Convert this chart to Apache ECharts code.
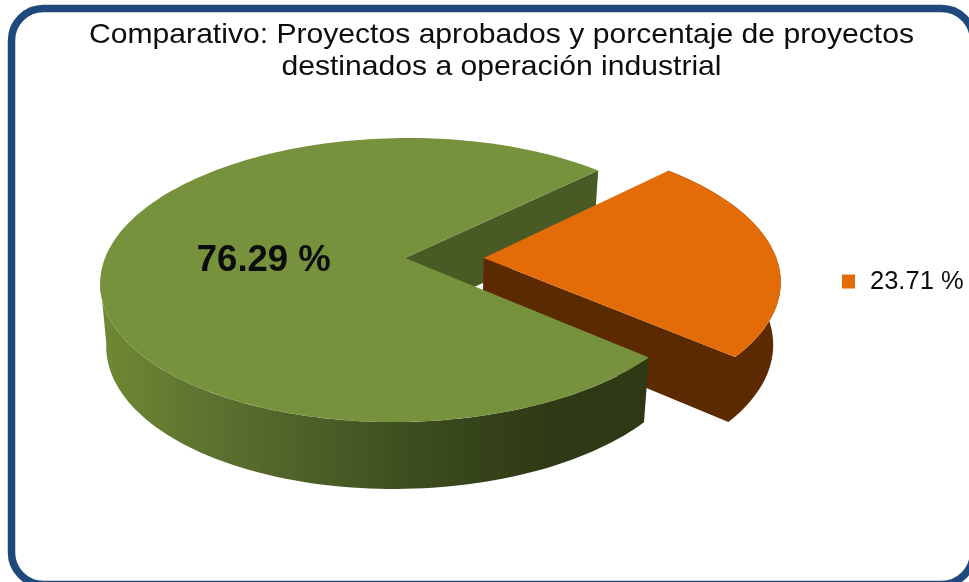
<!DOCTYPE html>
<html>
<head>
<meta charset="utf-8">
<style>html,body{margin:0;padding:0;background:#fff}#c{width:969px;height:582px}</style>
<script src="https://cdn.jsdelivr.net/npm/echarts@6/dist/echarts.min.js"></script>
</head>
<body>
<div id="c"></div>
<script>
var titleLines = ['Comparativo: Proyectos aprobados y porcentaje de proyectos', 'destinados a operación industrial'];
var sliceLabels = ['76.29 %', '23.71 %'];
var sliceValues = [76.29, 23.71];
var sliceExplode = [0, 0.266];
var legendLabels = ['23.71 %'];

var total = sliceValues.reduce(function (a, b) { return a + b; }, 0);
var orangeStartDeg = -44.8;
var orangeSweep = sliceValues[1] / total * 360;
var sliceRange = [
  [orangeStartDeg + orangeSweep, orangeStartDeg + 360],
  [orangeStartDeg, orangeStartDeg + orangeSweep]
];
var OX = 405, OY = 258, R = 297, S = 138.6, KV = 0.155, KU = 0.01, SHEAR = 0.05, DEPTH = 62;

function projectTop(u, v) {
  var w = 1 - KV * v + KU * u;
  var y = S * v / w;
  return [OX + R * u / w - SHEAR * y, OY + y];
}
function projectBottom(p) {
  return [OX + 0.98 * (p[0] - OX), p[1] + DEPTH + 0.03 * (p[1] - OY)];
}
function rim(deg, e) {
  var t = deg * Math.PI / 180;
  return projectTop(Math.cos(t) + e, Math.sin(t));
}
function arcPoints(a, b, e) {
  var pts = [], n = Math.max(2, Math.ceil(Math.abs(b - a) / 1.5));
  for (var i = 0; i <= n; i++) pts.push(rim(a + (b - a) * i / n, e));
  return pts;
}
function wall(edge) {
  return edge.concat(edge.map(projectBottom).reverse());
}
function poly(points, fill, z2) {
  return { type: 'polygon', z2: z2, shape: { points: points }, style: { fill: fill, stroke: null } };
}
var greenWall = new echarts.graphic.LinearGradient(0, 0, 1, 0, [
  { offset: 0, color: '#6f8933' },
  { offset: 0.2, color: '#5d7230' },
  { offset: 0.55, color: '#3f4f1f' },
  { offset: 0.8, color: '#2f3b16' },
  { offset: 1, color: '#2d3815' }
]);

function renderGreen(params, api) {
  var r = sliceRange[0];
  var apex = projectTop(0, 0);
  var mid = (r[0] + r[1]) / 2;
  var lab = rim(mid, 0);
  var labX = OX + (lab[0] - OX) * 0.468, labY = OY + 3;
  return {
    type: 'group',
    children: [
      poly(wall([apex, rim(r[1], 0)]), '#4a5a25', 1),
      poly(wall(arcPoints(r[0], 171, 0)), greenWall, 4),
      poly([apex].concat(arcPoints(r[0], r[1], 0)), '#76923c', 5),
      { type: 'text', z2: 6, style: {
          x: labX, y: labY, text: sliceLabels[0], align: 'center', verticalAlign: 'middle',
          font: 'bold 36.5px "Liberation Sans", Arial, sans-serif', fill: '#0c0c0c' } }
    ]
  };
}
function renderOrange(params, api) {
  var r = sliceRange[1], e = sliceExplode[1];
  var apex = projectTop(e, 0);
  return {
    type: 'group',
    children: [
      poly(wall([apex].concat(arcPoints(r[1], r[0], e))), '#5c2a00', 2),
      poly([apex].concat(arcPoints(r[0], r[1], e)), '#e36c09', 3)
    ]
  };
}

var chart = echarts.init(document.getElementById('c'), null, { renderer: 'canvas' });
chart.setOption({
  animation: false,
  backgroundColor: '#ffffff',
  legend: {
    data: legendLabels.map(function (n) { return { name: n, icon: 'rect', itemStyle: { color: '#e36c09' } }; }),
    left: 842, top: 268.5, padding: 0, itemWidth: 13, itemHeight: 14, itemGap: 0, selectedMode: false,
    textStyle: { fontFamily: '"Liberation Sans", Arial, sans-serif', fontSize: 25.5, color: '#0d0d0d', padding: [0, 0, 0, 10] }
  },
  graphic: [{
    type: 'rect', z: 10, silent: true,
    shape: { x: 11.5, y: 8.5, width: 962, height: 576, r: 32 },
    style: { fill: 'none', stroke: '#1f497d', lineWidth: 7.5 }
  }, {
    type: 'text', z: 10, silent: true,
    x: 501.5, y: 51.5, scaleX: 1.075,
    style: {
      text: titleLines.join('\n'), align: 'center', verticalAlign: 'middle', lineHeight: 32,
      font: '28px "Liberation Sans", Arial, sans-serif', fill: '#0d0d0d'
    }
  }],
  series: [
    { type: 'custom', name: sliceLabels[0], coordinateSystem: 'none', renderItem: renderGreen, data: [sliceValues[0]], itemStyle: { color: '#76923c' }, silent: true },
    { type: 'custom', name: sliceLabels[1], coordinateSystem: 'none', renderItem: renderOrange, data: [sliceValues[1]], itemStyle: { color: '#e36c09' }, silent: true }
  ]
});
</script>
</body>
</html>
